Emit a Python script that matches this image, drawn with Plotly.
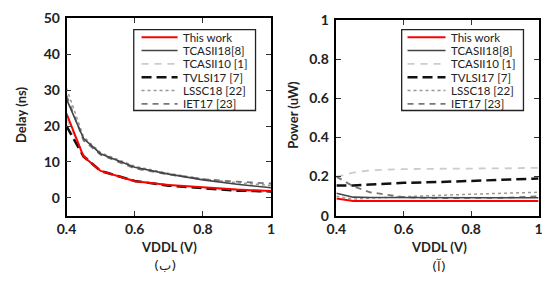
import plotly.graph_objects as go

vddl = [0.4, 0.45, 0.5, 0.6, 0.7, 0.8, 0.9, 1.0]
series_names = ["This work", "TCASII18[8]", "TCASII10 [1]", "TVLSI17 [7]", "LSSC18 [22]", "IET17 [23]"]

delay_this = [23.5, 11.5, 7.5, 4.6, 3.6, 2.9, 2.3, 1.9]
delay_tcasii18 = [27.5, 16.5, 12.3, 8.5, 6.6, 5.0, 3.8, 2.8]
delay_tcasii10 = [22.0, 12.0, 7.6, 4.8, 3.5, 2.6, 2.0, 1.6]
delay_tvlsi17 = [20.0, 11.5, 7.5, 4.7, 3.4, 2.6, 2.0, 1.8]
delay_lssc18 = [30.5, 17.0, 12.6, 8.8, 6.8, 5.3, 4.2, 3.4]
delay_iet17 = [28.5, 16.0, 12.0, 8.2, 6.5, 5.2, 4.5, 4.0]

power_this = [0.088, 0.075, 0.075, 0.076, 0.076, 0.076, 0.076, 0.076]
power_tcasii18 = [0.115, 0.095, 0.093, 0.092, 0.092, 0.092, 0.092, 0.092]
power_tcasii10 = [0.20, 0.22, 0.232, 0.238, 0.24, 0.24, 0.242, 0.245]
power_tvlsi17 = [0.155, 0.155, 0.16, 0.168, 0.172, 0.178, 0.183, 0.19]
power_lssc18 = [0.10, 0.085, 0.09, 0.098, 0.104, 0.11, 0.114, 0.12]
power_iet17 = [0.20, 0.15, 0.12, 0.095, 0.09, 0.09, 0.092, 0.10]

x_tick_vals = [0.4, 0.6, 0.8, 1.0]
x_tick_text = ["0.4", "0.6", "0.8", "1"]
delay_tick_vals = [0, 10, 20, 30, 40, 50]
power_tick_vals = [0, 0.2, 0.4, 0.6, 0.8, 1.0]
power_tick_text = ["0", "0.2", "0.4", "0.6", "0.8", "1"]

styles = [
    dict(color="#ff0000", width=2, dash="solid"),
    dict(color="#444444", width=1.6, dash="solid"),
    dict(color="#cccccc", width=1.8, dash="7px,6px"),
    dict(color="#111111", width=2.5, dash="10px,5px"),
    dict(color="#999999", width=1.5, dash="dot"),
    dict(color="#777777", width=1.8, dash="6px,5px"),
]

delay_data = [delay_this, delay_tcasii18, delay_tcasii10, delay_tvlsi17, delay_lssc18, delay_iet17]
power_data = [power_this, power_tcasii18, power_tcasii10, power_tvlsi17, power_lssc18, power_iet17]

W, H = 545, 283
def px(x):
    return x / W
def py(y):
    return (H - y) / H

fig = go.Figure()
draw_order = [2, 4, 5, 3, 1, 0]
for i in draw_order:
    fig.add_trace(go.Scatter(x=vddl, y=delay_data[i], mode="lines", name=series_names[i],
                             line=styles[i], xaxis="x", yaxis="y", showlegend=False))
for i in draw_order:
    fig.add_trace(go.Scatter(x=vddl, y=power_data[i], mode="lines", name=series_names[i],
                             line=styles[i], xaxis="x2", yaxis="y2", showlegend=False))

font_family = "Lato, Open Sans, DejaVu Sans, sans-serif"
tick_font = dict(family=font_family, size=14, color="#222", weight="bold")
axis_common = dict(showline=True, linecolor="black", linewidth=1.6, mirror="ticks",
                   ticks="inside", ticklen=5, tickcolor="#333", showgrid=False, zeroline=False,
                   ticklabeloverflow="allow", tickfont=tick_font)

shapes = []
annotations = []

# Manual legends (one per panel)
for (bx0, bx1, lx0, lx1, tx) in [(127, 252, 135, 172, 177), (402, 527, 408, 447, 452)]:
    shapes.append(dict(type="rect", xref="paper", yref="paper",
                       x0=px(bx0), x1=px(bx1), y0=py(108), y1=py(22),
                       line=dict(color="#222", width=1.3), fillcolor="white", layer="above"))
    for i, name in enumerate(series_names):
        yc = 30 + 14.2 * i
        st = styles[i]
        shapes.append(dict(type="line", xref="paper", yref="paper",
                           x0=px(lx0), x1=px(lx1), y0=py(yc), y1=py(yc),
                           line=dict(color=st["color"], width=st["width"], dash=st["dash"]),
                           layer="above"))
        annotations.append(dict(text=name, x=px(tx), y=py(yc), xref="paper", yref="paper",
                                xanchor="left", yanchor="middle", showarrow=False, borderpad=0,
                                font=dict(family=font_family, size=11.5, color="#222")))

title_font = dict(family=font_family, size=13, color="#222", weight="bold")
annotations += [
    dict(text="Delay (ns)", x=px(11), y=py(113), textangle=-90, xref="paper", yref="paper",
         xanchor="center", yanchor="middle", showarrow=False, font=title_font),
    dict(text="Power (uW)", x=px(291), y=py(113), textangle=-90, xref="paper", yref="paper",
         xanchor="center", yanchor="middle", showarrow=False, font=title_font),
    dict(text="VDDL (V)", x=px(163), y=py(253), xref="paper", yref="paper",
         xanchor="center", yanchor="middle", showarrow=False, font=title_font),
    dict(text="VDDL (V)", x=px(440), y=py(253), xref="paper", yref="paper",
         xanchor="center", yanchor="middle", showarrow=False, font=title_font),
    dict(text="(ب)", x=px(159), y=py(273), xref="paper", yref="paper",
         xanchor="center", yanchor="middle", showarrow=False,
         font=dict(family="DejaVu Sans", size=13, color="#222")),
    dict(text="(آ)", x=px(440), y=py(273), xref="paper", yref="paper",
         xanchor="center", yanchor="middle", showarrow=False,
         font=dict(family="DejaVu Sans", size=13, color="#222")),
]

fig.update_layout(
    width=W, height=H,
    margin=dict(l=0, r=0, t=0, b=0),
    paper_bgcolor="white", plot_bgcolor="white",
    font=dict(family=font_family, color="#222"),
    showlegend=False,
    xaxis=dict(domain=[px(58), px(268)], range=[0.4, 1.0], tickvals=x_tick_vals,
               ticktext=x_tick_text, anchor="y", **axis_common),
    yaxis=dict(domain=[py(220), py(10)], range=[-5, 50], tickvals=delay_tick_vals, anchor="x",
               ticklabelstandoff=2, **axis_common),
    xaxis2=dict(domain=[px(335), px(542.5)], range=[0.4, 1.0], tickvals=x_tick_vals,
                ticktext=x_tick_text, anchor="y2", **axis_common),
    yaxis2=dict(domain=[py(220), py(11.5)], range=[0, 1], tickvals=power_tick_vals,
                ticktext=power_tick_text, anchor="x2", ticklabelstandoff=3, **axis_common),
    shapes=shapes,
    annotations=annotations,
)

fig.write_html("out.html", config={"displayModeBar": False},
               post_script="document.body.style.margin='0';document.body.style.overflow='hidden';")
